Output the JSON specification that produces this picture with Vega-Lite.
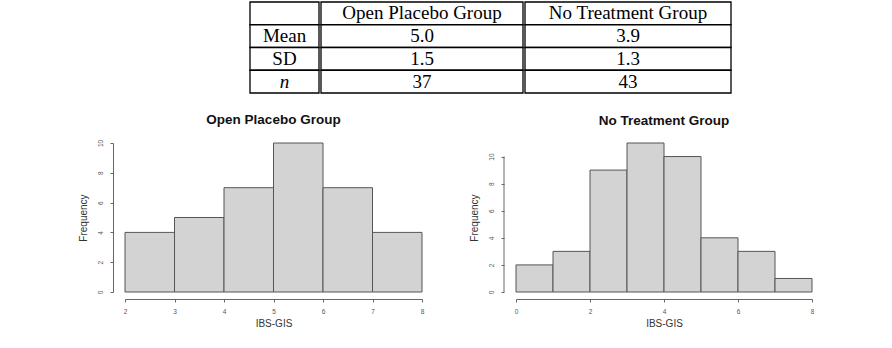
{
  "$schema": "https://vega.github.io/schema/vega-lite/v6.json",
  "padding": {"left": 78, "top": 1, "right": 0, "bottom": 0},
  "autosize": {"type": "pad"},
  "background": "white",
  "datasets": {
    "table": [
      {"row": "header", "stat": "", "open": "Open Placebo Group", "none": "No Treatment Group"},
      {"row": "Mean", "stat": "Mean", "open": "5.0", "none": "3.9"},
      {"row": "SD", "stat": "SD", "open": "1.5", "none": "1.3"},
      {"row": "n", "stat": "n", "open": "37", "none": "43"}
    ],
    "openHist": [
      {"lo": 2, "hi": 3, "freq": 4},
      {"lo": 3, "hi": 4, "freq": 5},
      {"lo": 4, "hi": 5, "freq": 7},
      {"lo": 5, "hi": 6, "freq": 10},
      {"lo": 6, "hi": 7, "freq": 7},
      {"lo": 7, "hi": 8, "freq": 4}
    ],
    "noneHist": [
      {"lo": 0, "hi": 1, "freq": 2},
      {"lo": 1, "hi": 2, "freq": 3},
      {"lo": 2, "hi": 3, "freq": 9},
      {"lo": 3, "hi": 4, "freq": 11},
      {"lo": 4, "hi": 5, "freq": 10},
      {"lo": 5, "hi": 6, "freq": 4},
      {"lo": 6, "hi": 7, "freq": 3},
      {"lo": 7, "hi": 8, "freq": 1}
    ]
  },
  "spacing": 18,
  "vconcat": [
    {
      "spacing": 0,
      "hconcat": [
        {
          "width": 124, "height": 91,
          "data": {"values": []},
          "mark": {"type": "text"}
        },
        {
          "width": 69, "height": 91,
          "data": {"name": "table"},
          "encoding": {"y": {"field": "row", "type": "nominal", "scale": {"domain": ["header", "Mean", "SD", "n"], "paddingInner": 0, "paddingOuter": 0}, "axis": null}},
          "layer": [
            {"mark": {"type": "rect", "fill": "white", "stroke": "#000", "strokeWidth": 1.3}},
            {"transform": [{"filter": "datum.row !== 'n'"}], "mark": {"type": "text", "font": "Liberation Serif", "fontSize": 19, "fill": "#000"}, "encoding": {"text": {"field": "stat"}}},
            {"transform": [{"filter": "datum.row === 'n'"}], "mark": {"type": "text", "font": "Liberation Serif", "fontSize": 19, "fontStyle": "italic", "fill": "#000"}, "encoding": {"text": {"field": "stat"}}}
          ]
        },
        {
          "width": 202, "height": 91,
          "data": {"name": "table"},
          "encoding": {"y": {"field": "row", "type": "nominal", "scale": {"domain": ["header", "Mean", "SD", "n"], "paddingInner": 0, "paddingOuter": 0}, "axis": null}},
          "layer": [
            {"mark": {"type": "rect", "fill": "white", "stroke": "#000", "strokeWidth": 1.3}},
            {"mark": {"type": "text", "font": "Liberation Serif", "fontSize": 19, "fill": "#000"}, "encoding": {"text": {"field": "open"}}}
          ]
        },
        {
          "width": 206, "height": 91,
          "data": {"name": "table"},
          "encoding": {"y": {"field": "row", "type": "nominal", "scale": {"domain": ["header", "Mean", "SD", "n"], "paddingInner": 0, "paddingOuter": 0}, "axis": null}},
          "layer": [
            {"mark": {"type": "rect", "fill": "white", "stroke": "#000", "strokeWidth": 1.3}},
            {"mark": {"type": "text", "font": "Liberation Serif", "fontSize": 19, "fill": "#000"}, "encoding": {"text": {"field": "none"}}}
          ]
        }
      ]
    },
    {
      "spacing": 45,
      "hconcat": [
        {
          "width": 297, "height": 149,
          "title": {"text": "Open Placebo Group", "fontSize": 13.5, "fontWeight": "bold", "color": "#111", "offset": 13, "anchor": "middle", "frame": "group"},
          "data": {"name": "openHist"},
          "mark": {"type": "rect", "fill": "#d3d3d3", "stroke": "#555", "strokeWidth": 1},
          "encoding": {
            "x": {"field": "lo", "type": "quantitative", "scale": {"domain": [2, 8], "nice": false, "zero": false}, "axis": {"values": [2, 3, 4, 5, 6, 7, 8], "title": "IBS-GIS", "offset": 7, "labelOverlap": false}},
            "x2": {"field": "hi"},
            "y": {"field": "freq", "type": "quantitative", "scale": {"domain": [0, 10], "nice": false}, "axis": {"values": [0, 2, 4, 6, 8, 10], "title": "Frequency", "offset": 12, "labelOverlap": false}},
            "y2": {"datum": 0}
          }
        },
        {
          "width": 296, "height": 149,
          "title": {"text": "No Treatment Group", "fontSize": 13.5, "fontWeight": "bold", "color": "#111", "offset": 15, "anchor": "middle", "frame": "group"},
          "layer": [
            {
              "data": {"name": "noneHist"},
              "mark": {"type": "rect", "fill": "#d3d3d3", "stroke": "#555", "strokeWidth": 1},
              "encoding": {
                "x": {"field": "lo", "type": "quantitative", "scale": {"domain": [0, 8], "nice": false, "zero": false}, "axis": {"values": [0, 2, 4, 6, 8], "title": "IBS-GIS", "offset": 7, "labelOverlap": false}},
                "x2": {"field": "hi"},
                "y": {"field": "freq", "type": "quantitative", "scale": {"domain": [0, 11], "nice": false}, "axis": {"values": [0, 2, 4, 6, 8, 10], "title": "Frequency", "offset": 12, "domain": false, "labelOverlap": false}},
                "y2": {"datum": 0}
              }
            },
            {
              "data": {"values": [{"from": 0, "to": 10, "at": 0}]},
              "mark": {"type": "rule", "color": "#666", "strokeWidth": 1, "xOffset": -12},
              "encoding": {
                "x": {"field": "at", "type": "quantitative", "scale": {"domain": [0, 8], "nice": false, "zero": false}, "axis": {"values": [0, 2, 4, 6, 8], "title": "IBS-GIS", "offset": 7, "labelOverlap": false}},
                "y": {"field": "from", "type": "quantitative", "scale": {"domain": [0, 11], "nice": false}, "axis": {"values": [0, 2, 4, 6, 8, 10], "title": "Frequency", "offset": 12, "domain": false, "labelOverlap": false}},
                "y2": {"field": "to"}
              }
            }
          ]
        }
      ]
    }
  ],
  "config": {
    "view": {"stroke": null},
    "font": "Liberation Sans",
    "axis": {"grid": false, "tickSize": 3, "domainColor": "#666", "tickColor": "#666", "labelColor": "#555", "labelFontSize": 6.5, "labelFont": "Liberation Sans", "labelFlush": false, "labelOverlap": false, "titleFont": "Liberation Sans", "titleFontSize": 10, "titleFontWeight": "normal", "titleColor": "#333"},
    "axisX": {"labelPadding": 6, "titlePadding": 4},
    "axisY": {"labelAngle": -90, "labelAlign": "center", "labelBaseline": "bottom", "labelPadding": 7, "titlePadding": 9}
  }
}
